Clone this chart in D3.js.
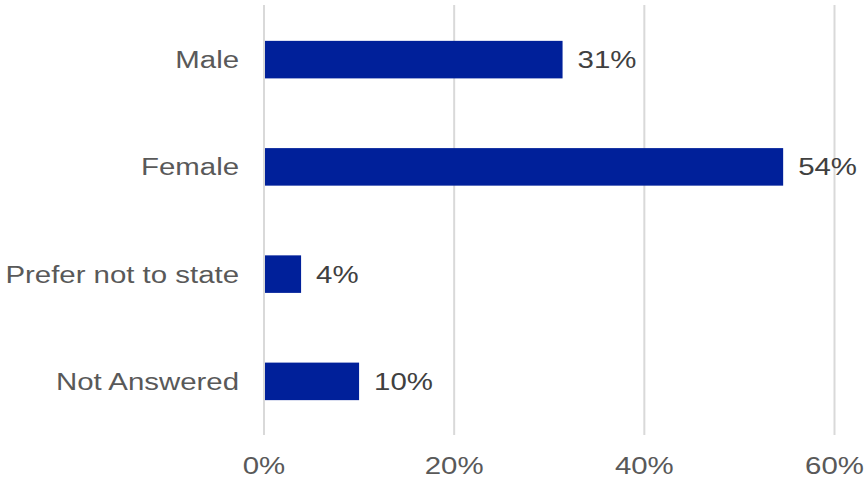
<!DOCTYPE html>
<html>
<head>
<meta charset="utf-8">
<script src="https://cdn.jsdelivr.net/npm/d3@7"></script>
<style>
  html, body { margin: 0; padding: 0; background: #ffffff; }
  svg { display: block; }
  text { font-family: "Liberation Sans", Arial, sans-serif; }
</style>
</head>
<body>
<svg id="chart" width="865" height="481"></svg>
<script>
const categories = ["Male", "Female", "Prefer not to state", "Not Answered"];
const values = [0.314, 0.546, 0.039, 0.100];
const valueLabels = ["31%", "54%", "4%", "10%"];
const tickValues = [0, 0.2, 0.4, 0.6];
const tickLabels = ["0%", "20%", "40%", "60%"];

const W = 865, H = 481;
const svg = d3.select("#chart");
const stretch = 1.2;
const fontSize = 24.5;

const x = d3.scaleLinear().domain([0, 0.6]).range([264, 834.5]);
const y = d3.scaleBand().domain(categories).range([6, 435]).paddingInner(0.65).paddingOuter(0.325);

// gridlines
svg.append("g").selectAll("line").data(tickValues).join("line")
  .attr("x1", d => x(d)).attr("x2", d => x(d))
  .attr("y1", 5).attr("y2", 435)
  .attr("stroke", "#d9d9d9").attr("stroke-width", 2);

// bars
svg.append("g").selectAll("rect").data(categories).join("rect")
  .attr("x", x(0) + 1)
  .attr("y", d => y(d))
  .attr("width", (d, i) => x(values[i]) - x(0) - 1)
  .attr("height", y.bandwidth())
  .attr("fill", "#00209a");

function stretchedText(g, data, px, py, txt, anchor, color) {
  g.selectAll("text").data(data).join("text")
    .attr("transform", (d, i) => `translate(${px(d, i)},${py(d, i)}) scale(${stretch},1)`)
    .attr("text-anchor", anchor)
    .attr("font-size", fontSize)
    .attr("fill", color)
    .text((d, i) => txt(d, i));
}

// category labels
stretchedText(svg.append("g"), categories,
  () => 239, d => y(d) + y.bandwidth() / 2 + 8.5, d => d, "end", "#595959");

// value labels
stretchedText(svg.append("g"), categories,
  (d, i) => x(values[i]) + 15, d => y(d) + y.bandwidth() / 2 + 8.5, (d, i) => valueLabels[i], "start", "#404040");

// x axis tick labels
stretchedText(svg.append("g"), tickValues,
  d => x(d), () => 474, (d, i) => tickLabels[i], "middle", "#595959");
</script>
</body>
</html>
